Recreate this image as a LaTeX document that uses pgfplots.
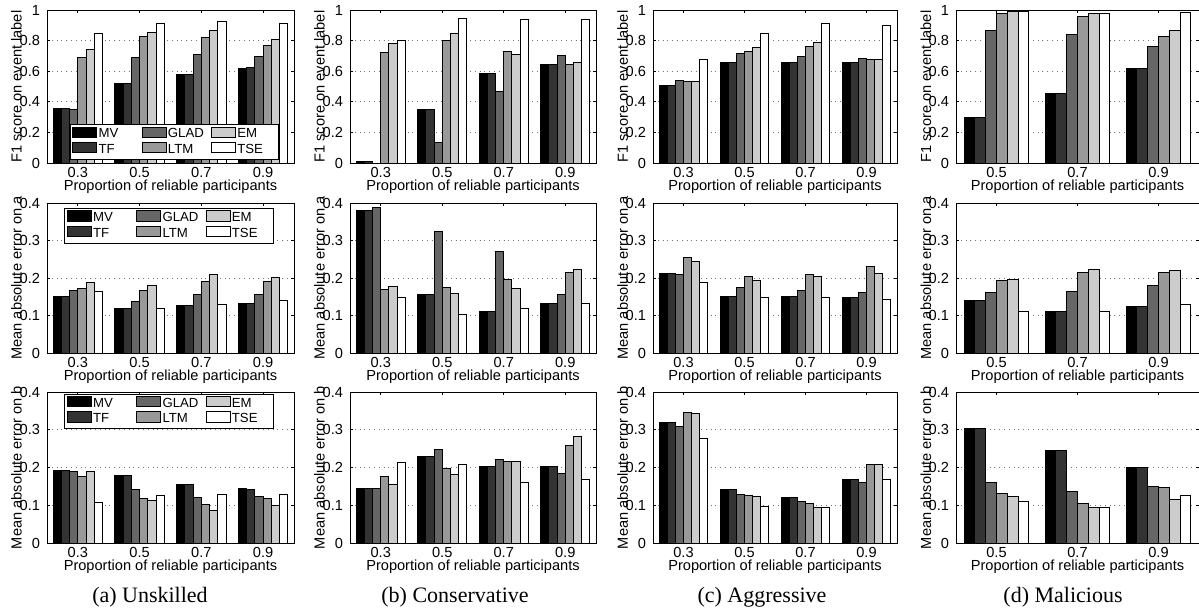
\documentclass[border=0pt]{standalone}
\usepackage{pgfplots}
\pgfplotsset{compat=1.18}
\usepackage{pgfplotstable}
\usepackage{fontspec}
\setmainfont{Liberation Sans}
\newfontfamily\capfont{Liberation Serif}

% Row 1: F1 score on event label
\pgfplotstableread{
x MV TF GLAD LTM EM TSE
0.3 0.356 0.356 0.347 0.688 0.742 0.847
0.5 0.520 0.520 0.688 0.825 0.852 0.913
0.7 0.581 0.581 0.710 0.819 0.865 0.926
0.9 0.620 0.624 0.699 0.769 0.810 0.913
}\tAa
\pgfplotstableread{
x MV TF GLAD LTM EM TSE
0.3 0.008 0.008 0.000 0.725 0.780 0.801
0.5 0.352 0.352 0.131 0.801 0.847 0.943
0.7 0.585 0.585 0.465 0.727 0.710 0.939
0.9 0.644 0.644 0.703 0.644 0.655 0.939
}\tAb
\pgfplotstableread{
x MV TF GLAD LTM EM TSE
0.3 0.509 0.509 0.541 0.531 0.531 0.675
0.5 0.659 0.659 0.716 0.731 0.753 0.849
0.7 0.659 0.659 0.699 0.760 0.790 0.910
0.9 0.659 0.659 0.686 0.677 0.677 0.902
}\tAc
\pgfplotstableread{
x MV TF GLAD LTM EM TSE
0.5 0.295 0.295 0.869 0.978 0.987 0.987
0.7 0.454 0.454 0.840 0.958 0.978 0.978
0.9 0.618 0.618 0.764 0.830 0.867 0.983
}\tAd
% Row 2: MAE on a
\pgfplotstableread{
x MV TF GLAD LTM EM TSE
0.3 0.152 0.152 0.166 0.172 0.188 0.164
0.5 0.119 0.119 0.137 0.168 0.180 0.119
0.7 0.127 0.127 0.155 0.192 0.210 0.130
0.9 0.133 0.133 0.157 0.192 0.201 0.139
}\tBa
\pgfplotstableread{
x MV TF GLAD LTM EM TSE
0.3 0.380 0.380 0.387 0.169 0.178 0.148
0.5 0.155 0.155 0.324 0.174 0.158 0.104
0.7 0.112 0.112 0.271 0.196 0.173 0.118
0.9 0.131 0.131 0.156 0.216 0.222 0.133
}\tBb
\pgfplotstableread{
x MV TF GLAD LTM EM TSE
0.3 0.212 0.212 0.210 0.256 0.245 0.187
0.5 0.151 0.151 0.174 0.204 0.194 0.149
0.7 0.151 0.151 0.168 0.209 0.204 0.149
0.9 0.149 0.149 0.162 0.232 0.212 0.144
}\tBc
\pgfplotstableread{
x MV TF GLAD LTM EM TSE
0.5 0.139 0.139 0.161 0.193 0.196 0.111
0.7 0.111 0.111 0.165 0.215 0.223 0.111
0.9 0.125 0.125 0.179 0.214 0.220 0.129
}\tBd
% Row 3: MAE on b
\pgfplotstableread{
x MV TF GLAD LTM EM TSE
0.3 0.193 0.193 0.189 0.176 0.190 0.108
0.5 0.178 0.178 0.142 0.118 0.113 0.126
0.7 0.155 0.155 0.120 0.103 0.087 0.129
0.9 0.145 0.143 0.122 0.119 0.099 0.129
}\tCa
\pgfplotstableread{
x MV TF GLAD LTM EM TSE
0.3 0.144 0.144 0.144 0.176 0.156 0.214
0.5 0.230 0.230 0.247 0.198 0.182 0.207
0.7 0.202 0.202 0.220 0.216 0.216 0.161
0.9 0.202 0.202 0.184 0.257 0.283 0.169
}\tCb
\pgfplotstableread{
x MV TF GLAD LTM EM TSE
0.3 0.318 0.318 0.308 0.345 0.343 0.277
0.5 0.141 0.141 0.128 0.125 0.122 0.097
0.7 0.121 0.121 0.110 0.105 0.095 0.095
0.9 0.169 0.169 0.159 0.207 0.207 0.168
}\tCc
\pgfplotstableread{
x MV TF GLAD LTM EM TSE
0.5 0.303 0.303 0.161 0.130 0.122 0.110
0.7 0.244 0.244 0.136 0.104 0.093 0.094
0.9 0.200 0.199 0.149 0.147 0.116 0.127
}\tCd

\pgfplotsset{
  bb/.style={ybar, bar width=0.026667, draw=black, line width=0.5pt,
    legend image code/.code={\draw[##1] (0pt,-1.4pt) rectangle (12pt,3.8pt);}},
  s1/.style={bb, bar shift=-0.066667, fill=black},
  s2/.style={bb, bar shift=-0.04, fill=black!80},
  s3/.style={bb, bar shift=-0.013333, fill=black!60},
  s4/.style={bb, bar shift=0.013333, fill=black!40},
  s5/.style={bb, bar shift=0.04, fill=black!20},
  s6/.style={bb, bar shift=0.066667, fill=white},
  pan/.style={
    scale only axis, anchor=south west,
    tick align=inside, major tick length=1.5pt,
    ymajorgrids, major grid style={dotted, black!55, line width=0.4pt},
    axis line style={line width=0.5pt},
    every tick/.style={black, line width=0.4pt},
    font=\fontsize{7.3}{8.6}\selectfont,
    xticklabel style={yshift=1.5pt},
    xlabel={Proportion of reliable participants},
    xlabel style={at={(axis description cs:0.5,-0.158)}, anchor=center},
    ylabel style={at={(axis description cs:-0.124,0.5)}, anchor=center},
    /pgf/number format/assume math mode=true,
  },
  F1/.style={ymin=0, ymax=1, ytick={0,0.2,0.4,0.6,0.8,1}, yticklabels={0,0.2,0.4,0.6,0.8,1}, ylabel={F1 score on event label}},
  MA/.style={ymin=0, ymax=0.4, ytick={0,0.1,0.2,0.3,0.4}, yticklabels={0,0.1,0.2,0.3,0.4}},
  four/.style={xmin=0.2, xmax=1.0, xtick={0.3,0.5,0.7,0.9}, xticklabels={0.3,0.5,0.7,0.9}},
  three/.style={xmin=0.4, xmax=1.0, xtick={0.5,0.7,0.9}, xticklabels={0.5,0.7,0.9}},
  leg/.style={
    legend columns=2, transpose legend, legend cell align=left,
    legend style={draw=black, line width=0.5pt, fill=white, inner sep=1pt,
      font=\fontsize{6.6}{7.2}\selectfont,
      nodes={inner sep=0.6pt},
      /tikz/every even column/.append style={column sep=2pt}},
  },
  c1/.style={at={(23.5pt,#1)}, width=123.5pt},
  c2/.style={at={(175pt,#1)}, width=123pt},
  c3/.style={at={(326.5pt,#1)}, width=122pt},
  c4/.style={at={(478pt,#1)}, width=121.5pt},
  r1/.style={height=76.5pt, F1},
  r2/.style={height=75pt, MA, ylabel={Mean absolute error on a}},
  r3/.style={height=75.5pt, MA, ylabel={Mean absolute error on b}},
}

\newcommand\bars[1]{%
  \addplot[s1] table[x=x,y=MV]{#1};
  \addplot[s2] table[x=x,y=TF]{#1};
  \addplot[s3] table[x=x,y=GLAD]{#1};
  \addplot[s4] table[x=x,y=LTM]{#1};
  \addplot[s5] table[x=x,y=EM]{#1};
  \addplot[s6] table[x=x,y=TSE]{#1};
}
\newcommand\legs{\legend{\makebox[19pt][l]{MV},\makebox[19pt][l]{TF},\makebox[19pt][l]{GLAD},\makebox[19pt][l]{LTM},\makebox[19pt][l]{EM},\makebox[19pt][l]{TSE}}}

\begin{document}
\begin{tikzpicture}
\useasboundingbox (0,0) rectangle (599.5pt,-306pt);
\clip (0,0) rectangle (599.5pt,-306pt);

% Row 1
\begin{axis}[pan, r1, four, c1=-81.5pt, leg, legend style={at={(axis description cs:0.516,0.02)}, anchor=south}]
\bars{\tAa}\legs
\end{axis}
\begin{axis}[pan, r1, four, c2=-81.5pt]
\bars{\tAb}
\end{axis}
\begin{axis}[pan, r1, four, c3=-81.5pt]
\bars{\tAc}
\end{axis}
\begin{axis}[pan, r1, three, c4=-81.5pt]
\bars{\tAd}
\end{axis}

% Row 2
\begin{axis}[pan, r2, four, c1=-176.5pt, leg, legend style={at={(axis description cs:0.494,0.967)}, anchor=north}]
\bars{\tBa}\legs
\end{axis}
\begin{axis}[pan, r2, four, c2=-176.5pt]
\bars{\tBb}
\end{axis}
\begin{axis}[pan, r2, four, c3=-176.5pt]
\bars{\tBc}
\end{axis}
\begin{axis}[pan, r2, three, c4=-176.5pt]
\bars{\tBd}
\end{axis}

% Row 3
\begin{axis}[pan, r3, four, c1=-271.5pt, leg, legend style={at={(axis description cs:0.494,0.99)}, anchor=north}]
\bars{\tCa}\legs
\end{axis}
\begin{axis}[pan, r3, four, c2=-271.5pt]
\bars{\tCb}
\end{axis}
\begin{axis}[pan, r3, four, c3=-271.5pt]
\bars{\tCc}
\end{axis}
\begin{axis}[pan, r3, three, c4=-271.5pt]
\bars{\tCd}
\end{axis}

\node[font=\capfont\fontsize{11}{13}\selectfont] at (75pt,-298.5pt) {(a) Unskilled};
\node[font=\capfont\fontsize{11}{13}\selectfont] at (227.5pt,-298.5pt) {(b) Conservative};
\node[font=\capfont\fontsize{11}{13}\selectfont] at (381pt,-298.5pt) {(c) Aggressive};
\node[font=\capfont\fontsize{11}{13}\selectfont] at (531.5pt,-298.5pt) {(d) Malicious};
\end{tikzpicture}
\end{document}
